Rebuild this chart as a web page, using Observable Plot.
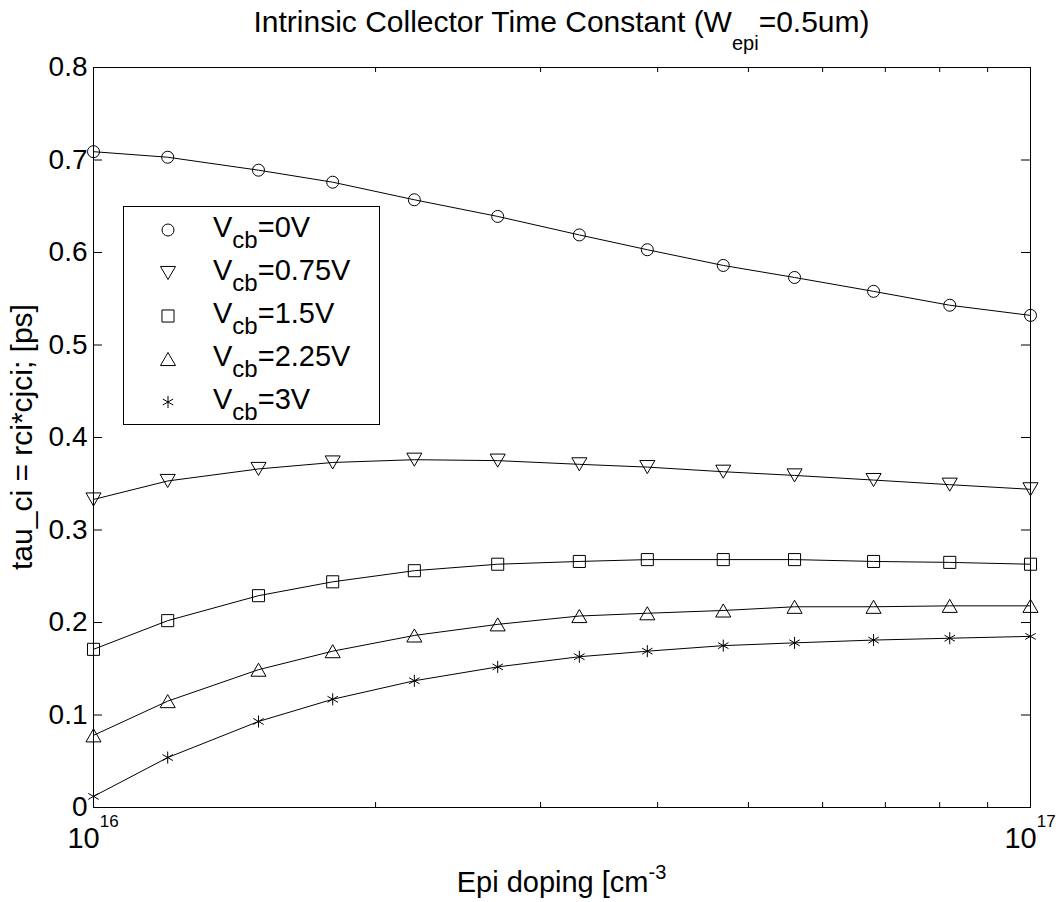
<!DOCTYPE html>
<html>
<head>
<meta charset="utf-8">
<script src="https://cdn.jsdelivr.net/npm/d3@7"></script>
<script src="https://cdn.jsdelivr.net/npm/@observablehq/plot@0.6"></script>
<style>
  body { margin: 0; background: #fff; }
  svg { display: block; }
</style>
</head>
<body>
<div id="chart"></div>
<script>
// ---- data ----
const doping = [1e16, 1.2e16, 1.5e16, 1.8e16, 2.2e16, 2.7e16, 3.3e16, 3.9e16, 4.7e16, 5.6e16, 6.8e16, 8.2e16, 1e17];
const vcbLabels = ["0V", "0.75V", "1.5V", "2.25V", "3V"];
const tauVcb0    = [0.709, 0.703, 0.689, 0.676, 0.657, 0.639, 0.619, 0.603, 0.586, 0.573, 0.558, 0.543, 0.532];
const tauVcb075  = [0.333, 0.353, 0.366, 0.373, 0.376, 0.375, 0.371, 0.368, 0.363, 0.359, 0.354, 0.349, 0.344];
const tauVcb15   = [0.171, 0.202, 0.229, 0.244, 0.256, 0.263, 0.266, 0.268, 0.268, 0.268, 0.266, 0.265, 0.263];
const tauVcb225  = [0.078, 0.115, 0.149, 0.169, 0.186, 0.198, 0.207, 0.210, 0.213, 0.217, 0.217, 0.218, 0.218];
const tauVcb3    = [0.012, 0.054, 0.093, 0.117, 0.137, 0.152, 0.163, 0.169, 0.175, 0.178, 0.181, 0.183, 0.185];
const yTicks = [0, 0.1, 0.2, 0.3, 0.4, 0.5, 0.6, 0.7, 0.8];
const yTickLabels = ["0", "0.1", "0.2", "0.3", "0.4", "0.5", "0.6", "0.7", "0.8"];
const xMajorTicks = [1e16, 1e17];
const xMajorExponents = ["16", "17"];
const xMinorTicks = [2e16, 3e16, 4e16, 5e16, 6e16, 7e16, 8e16, 9e16];
const titleMain = "Intrinsic Collector Time Constant (W";
const titleSub = "epi";
const titleEnd = "=0.5um)";
const xLabelMain = "Epi doping [cm";
const xLabelSup = "-3";
const yLabel = "tau_ci = rci*cjci; [ps]";

// ---- layout / style ----
const WIDTH = 1063, HEIGHT = 902;
const ML = 93, MR = 33, MT = 67, MB = 95;
const PW = WIDTH - ML - MR, PH = HEIGHT - MT - MB;
const FONT = "'Liberation Sans', Arial, Helvetica, sans-serif";
const seriesValues = [tauVcb0, tauVcb075, tauVcb15, tauVcb225, tauVcb3];
const symbolSpec = [
  {symbol: "circle",   r: 6.0, rotate: 0,   dy: 0},
  {symbol: "triangle", r: 5.6, rotate: 180, dy: -2.2},
  {symbol: "square",   r: 6.8, rotate: 0,   dy: 0},
  {symbol: "triangle", r: 5.6, rotate: 0,   dy: 2.2},
  {symbol: "asterisk", r: 5.7, rotate: 0,   dy: 0}
];

const rows = seriesValues.flatMap((vals, i) =>
  vals.map((v, j) => ({x: doping[j], y: v, s: vcbLabels[i]})));

const chart = Plot.plot({
  width: WIDTH,
  height: HEIGHT,
  marginLeft: ML, marginRight: MR, marginTop: MT, marginBottom: MB,
  style: {fontFamily: FONT, background: "white", color: "black"},
  x: {type: "log", domain: [1e16, 1e17], axis: null},
  y: {domain: [0, 0.8], axis: null},
  marks: [
    Plot.line(rows, {x: "x", y: "y", z: "s", stroke: "black", strokeWidth: 1}),
    ...vcbLabels.map((lab, i) => Plot.dot(rows.filter(d => d.s === lab), {
      x: "x", y: "y",
      symbol: symbolSpec[i].symbol,
      r: symbolSpec[i].r,
      rotate: symbolSpec[i].rotate,
      dy: symbolSpec[i].dy,
      stroke: "black", fill: "none", strokeWidth: 1
    })),
    Plot.ruleY(yTicks, {y: d => d, insetRight: PW - 9, stroke: "black"}),
    Plot.ruleY(yTicks, {y: d => d, insetLeft: PW - 9, stroke: "black"}),
    Plot.ruleX(xMinorTicks, {x: d => d, insetTop: PH - 5, stroke: "black"}),
    Plot.ruleX(xMinorTicks, {x: d => d, insetBottom: PH - 5, stroke: "black"}),
    Plot.frame({stroke: "black", strokeWidth: 1}),
    Plot.axisY(yTicks, {
      anchor: "left", tickSize: 0, tickPadding: 6, fontSize: 28, label: null,
      tickFormat: d => yTickLabels[yTicks.indexOf(d)]
    })
  ]
});

document.getElementById("chart").appendChild(chart);

const svg = d3.select(chart);
const xs = chart.scale("x");
const ys = chart.scale("y");
const cx = (xs.range[0] + xs.range[1]) / 2;
const cy = (ys.range[0] + ys.range[1]) / 2;

// title
const t = svg.append("text")
  .attr("x", cx).attr("y", 32)
  .attr("text-anchor", "middle")
  .attr("font-family", FONT).attr("font-size", 30).attr("fill", "black");
t.append("tspan").text(titleMain);
t.append("tspan").attr("font-size", 20).attr("dy", 18).text(titleSub);
t.append("tspan").attr("dy", -18).text(titleEnd);

// x tick labels 10^16, 10^17
xMajorTicks.forEach((v, i) => {
  const tx = svg.append("text")
    .attr("x", xs.apply(v)).attr("y", 848)
    .attr("text-anchor", "middle")
    .attr("font-family", FONT).attr("font-size", 29).attr("fill", "black");
  tx.append("tspan").text("10");
  tx.append("tspan").attr("font-size", 17).attr("dy", -21).text(xMajorExponents[i]);
});

// x label
const xl = svg.append("text")
  .attr("x", cx).attr("y", 892)
  .attr("text-anchor", "middle")
  .attr("font-family", FONT).attr("font-size", 29).attr("fill", "black");
xl.append("tspan").text(xLabelMain);
xl.append("tspan").attr("font-size", 20).attr("dy", -13).text(xLabelSup);

// y label
svg.append("text")
  .attr("transform", `translate(32,${cy}) rotate(-90)`)
  .attr("text-anchor", "middle")
  .attr("font-family", FONT).attr("font-size", 30).attr("fill", "black")
  .text(yLabel);

// legend
const symTypes = {circle: d3.symbolCircle, triangle: d3.symbolTriangle, square: d3.symbolSquare, asterisk: d3.symbolAsterisk};
const lg = svg.append("g").attr("text-anchor", "start");
lg.append("rect")
  .attr("x", 123.5).attr("y", 206.5).attr("width", 256).attr("height", 218)
  .attr("fill", "white").attr("stroke", "black").attr("stroke-width", 1);
vcbLabels.forEach((lab, i) => {
  const rowY = 230 + 43 * i;
  const spec = symbolSpec[i];
  lg.append("path")
    .attr("d", d3.symbol(symTypes[spec.symbol], Math.PI * spec.r * spec.r)())
    .attr("transform", `translate(168,${rowY + spec.dy}) rotate(${spec.rotate})`)
    .attr("fill", "none").attr("stroke", "black").attr("stroke-width", 1);
  const tx = lg.append("text")
    .attr("x", 213).attr("y", rowY + 7)
    .attr("text-anchor", "start")
    .attr("font-family", FONT).attr("font-size", 29).attr("fill", "black");
  tx.append("tspan").text("V");
  tx.append("tspan").attr("font-size", 24).attr("dy", 11).text("cb");
  tx.append("tspan").attr("dy", -11).text("=" + lab);
});
</script>
</body>
</html>
